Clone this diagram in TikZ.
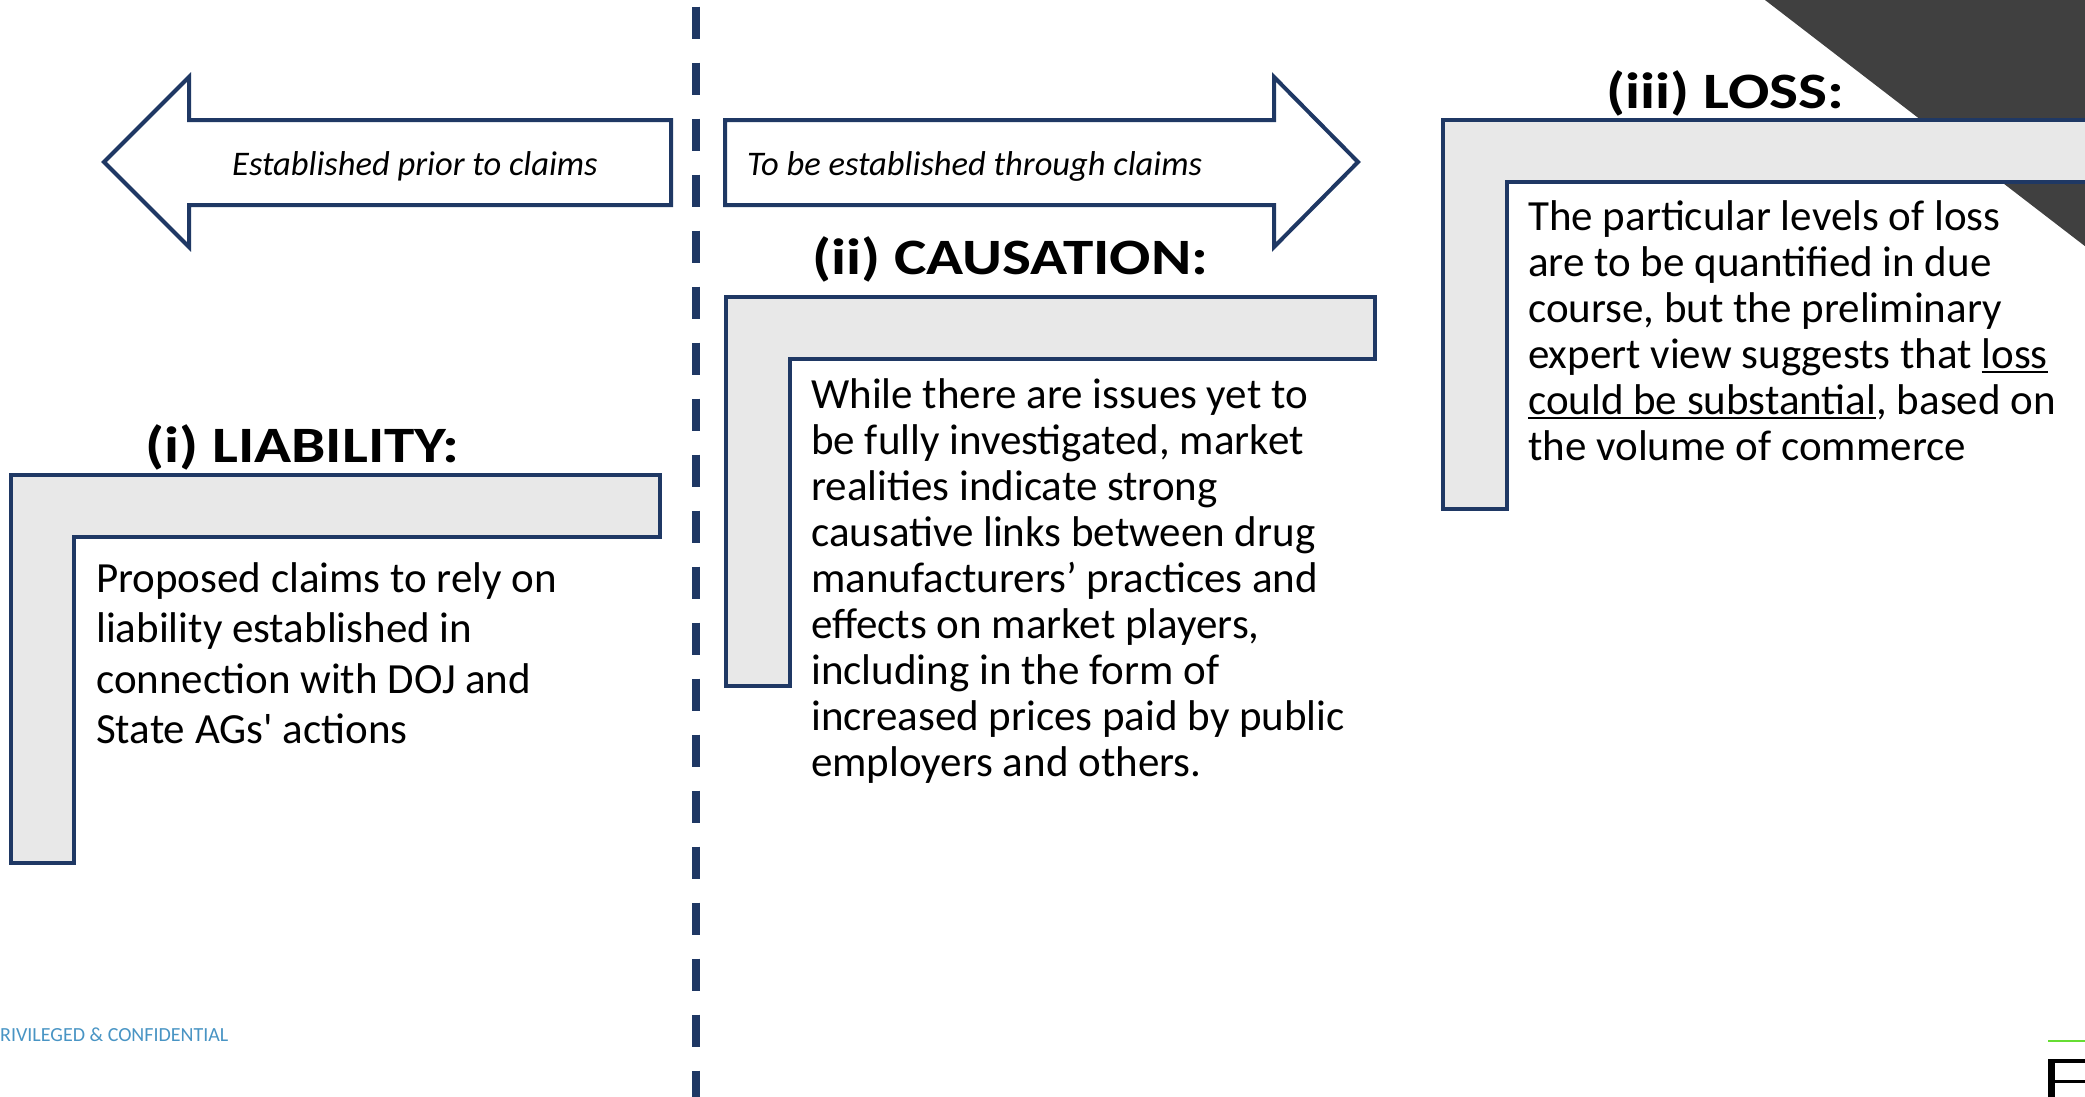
\documentclass[tikz,border=0pt]{standalone}
\usepackage{fontspec}
\setmainfont{Carlito}
\newfontfamily\bodyfont{Carlito}[Ligatures=TeXOff]
\newfontfamily\hdfont{Carlito}[FakeStretch=1.2]
\definecolor{navy}{RGB}{31,56,100}
\definecolor{lgrey}{RGB}{232,232,232}
\definecolor{darkgrey}{RGB}{64,64,64}
\definecolor{footblue}{RGB}{72,148,196}
\definecolor{logogreen}{RGB}{102,221,51}
\newsavebox\ulbox
\newcommand\myul[1]{\sbox\ulbox{#1}\rlap{\rule[-5pt]{\wd\ulbox}{2.5pt}}\usebox\ulbox}
\begin{document}
\begin{tikzpicture}[x=1pt,y=-1pt,
  shapeline/.style={draw=navy,line width=4pt,line join=miter},
  lbox/.style={shapeline,fill=lgrey},
  blockarrow/.style={shapeline,fill=white},
  divider/.style={draw=navy,line width=8pt,dash pattern=on 32pt off 24pt},
  hdr/.style={anchor=base west,inner sep=0pt,font=\hdfont\bfseries\fontsize{51}{51}\selectfont},
  body/.style={anchor=base west,inner sep=0pt,align=left,font=\bodyfont\fontsize{43}{46}\selectfont},
  arrtext/.style={anchor=base west,inner sep=0pt,font=\bodyfont\itshape\fontsize{34.5}{40}\selectfont},
  foot/.style={anchor=base west,inner sep=0pt,text=footblue,font=\bodyfont\fontsize{20}{22}\selectfont}]
\path[use as bounding box,clip] (0,0) rectangle (2085,1096);
\fill[white] (0,0) rectangle (2085,1096);
% dark corner triangle
\fill[darkgrey] (1765,0) -- (2100,0) -- (2100,257.7) -- cycle;
% divider
\coordinate (dtop) at (695.5,6.7);
\coordinate (dbot) at (695.5,1100);
\draw[divider] (dtop) -- (dbot);
% block arrows
\draw[blockarrow] (671,120) -- (189,120) -- (189,77) -- (104,162) -- (189,247) -- (189,205) -- (671,205) -- cycle;
\draw[blockarrow] (725,120) -- (1274,120) -- (1274,77) -- (1358,162) -- (1274,247) -- (1274,205) -- (725,205) -- cycle;
\node[arrtext] (a1) at (232,175) {Established prior to claims};
\node[arrtext] (a2) at (747,175) {To be established through claims};
% L shapes
\draw[lbox] (11,475) -- (660,475) -- (660,537) -- (74,537) -- (74,863) -- (11,863) -- cycle;
\draw[lbox] (726,297) -- (1375,297) -- (1375,359) -- (790,359) -- (790,686) -- (726,686) -- cycle;
\draw[lbox] (1443,120) -- (2100,120) -- (2100,182) -- (1507,182) -- (1507,509) -- (1443,509) -- cycle;
% headings
\node[hdr] (h1) at (145,462) {(i) LIABILITY:};
\node[hdr] (h2) at (812,274) {(ii) CAUSATION:};
\node[hdr] (h3) at (1606,108) {(iii) LOSS:};
% body texts (base anchor = baseline of the last line)
\node[body,font=\bodyfont\fontsize{43}{50.5}\selectfont] (t1) at (96,743.5) {Proposed claims to rely on\\liability established in\\connection with DOJ and\\State AGs' actions};
\node[body] (t2) at (811,776) {While there are issues yet to\\be fully investigated, market\\realities indicate strong\\causative links between drug\\manufacturers’ practices and\\effects on market players,\\including in the form of\\increased prices paid by public\\employers and others.};
\node[body] (t3) at (1528,460) {The particular levels of loss\\are to be quantified in due\\course, but the preliminary\\expert view suggests that \myul{loss}\\\myul{could be substantial}, based on\\the volume of commerce};
% footer
\node[foot] (pc) at (0,1041) {RIVILEGED \& CONFIDENTIAL};
% logo fragment
\coordinate (g1) at (2048,1041);
\coordinate (g2) at (2090,1041);
\draw[logogreen,line width=2.5pt] (g1) -- (g2);
\fill[black] (2048,1059) rectangle (2055,1100);
\fill[black] (2048,1059) rectangle (2090,1063);
\fill[black] (2055,1080) rectangle (2090,1083);
\end{tikzpicture}
\end{document}
